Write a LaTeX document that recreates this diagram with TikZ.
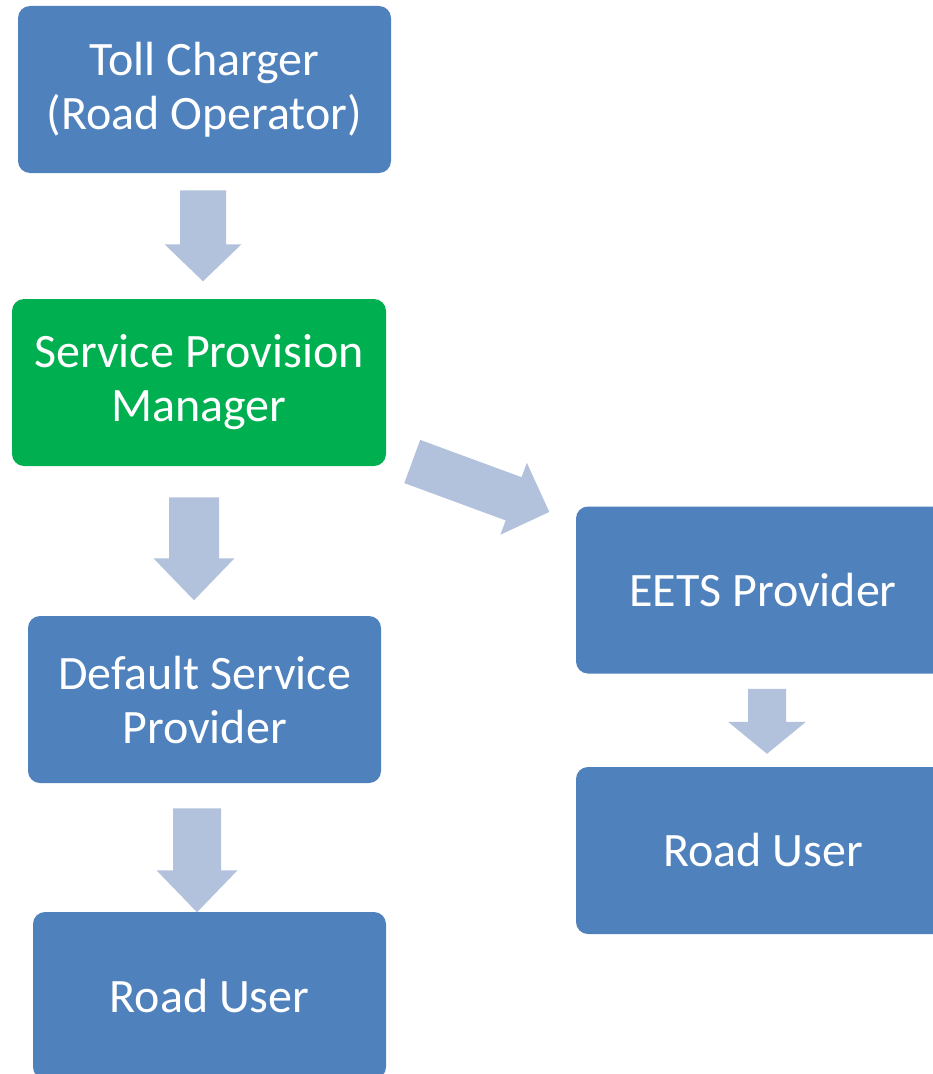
\documentclass[tikz,border=0pt]{standalone}
\usepackage{fontspec}
\setmainfont{Carlito}
\usetikzlibrary{calc}
\definecolor{boxblue}{HTML}{4F81BD}
\definecolor{boxgreen}{HTML}{00B050}
\definecolor{arrowblue}{HTML}{B2C2DD}
% #1 start coordinate, #2 angle, #3 length, #4 shaft half width, #5 head half width, #6 head length
\newcommand{\blkarrow}[6]{%
  \fill[arrowfill, shift={(#1)}, rotate=#2]
    (0,-#4) -- ({#3-#6},-#4) -- ({#3-#6},-#5) -- (#3,0) -- ({#3-#6},#5) -- ({#3-#6},#4) -- (0,#4) -- cycle;}
\begin{document}
\begin{tikzpicture}[x=0.75pt,y=-0.75pt,
  box/.style={rectangle, rounded corners=9pt, fill=boxblue, text=white, align=center,
    inner sep=0pt, minimum height={167*0.75pt},
    font=\fontsize{36}{40.5}\selectfont},
  twoline/.style={text depth=14pt},
  greenbox/.style={box, fill=boxgreen},
  arrowfill/.style={fill=arrowblue}]
\fill[white] (0,0) rectangle (932,1074);
\useasboundingbox (0,0) rectangle (932,1074);

\node[box, minimum width={373*0.75pt}] (tc) at (204.5,89.5) {Toll Charger\\(Road Operator)};
\node[greenbox, minimum width={374*0.75pt}] (spm) at (199,382.5) {Service Provision\\Manager};
\node[box, minimum width={353*0.75pt}] (dsp) at (204.5,699.5) {Default Service\\Provider};
\node[box, minimum width={353*0.75pt}] (ru1) at (209.5,995.5) {Road User};
\node[box, minimum width={374*0.75pt}] (eets) at (763,590) {EETS Provider};
\node[box, minimum width={374*0.75pt}] (ru2) at (763,850.5) {Road User};

\coordinate (a1) at ($(tc.south)+(-1.5,17)$);
\coordinate (a2) at ($(spm.south)+(-5,31)$);
\coordinate (a3) at ($(dsp.south)+(-7.5,25)$);
\coordinate (a4) at ($(eets.south)+(4,15)$);
\coordinate (a5) at ($(spm.east)+(26,79)$);

\blkarrow{a1}{-90}{91}{23}{38.5}{37}
\blkarrow{a2}{-90}{103}{25}{40.5}{42}
\blkarrow{a3}{-90}{104}{24}{40.5}{42}
\blkarrow{a4}{-90}{65}{19}{39}{32}
\blkarrow{a5}{-20.2}{146}{23}{38.3}{38}
\end{tikzpicture}
\end{document}
